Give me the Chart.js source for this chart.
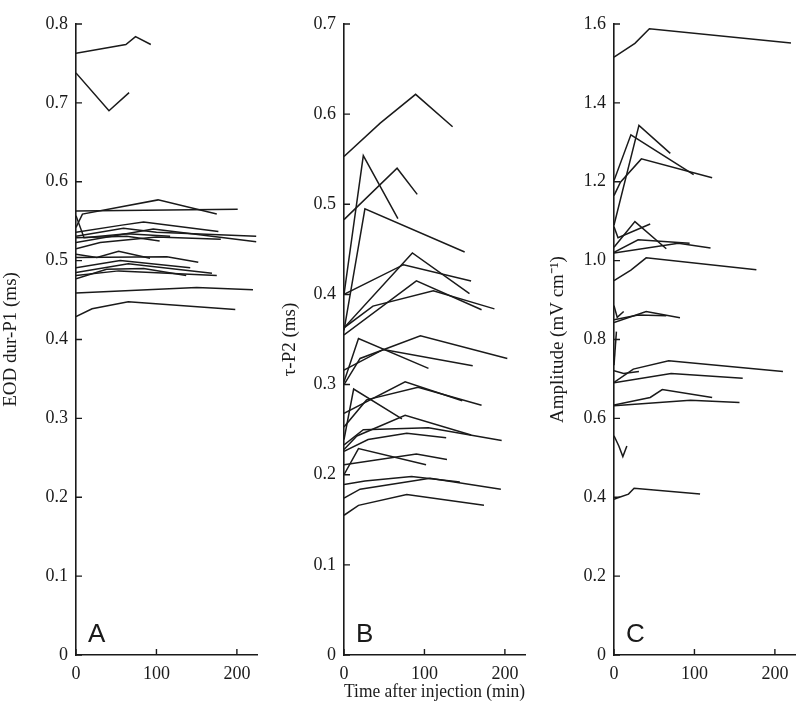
<!DOCTYPE html>
<html>
<head>
<meta charset="utf-8">
<script src="https://cdn.jsdelivr.net/npm/chart.js@4.4.1/dist/chart.umd.min.js"></script>
<style>
  html, body { margin: 0; padding: 0; background: #fff; }
  #wrap { position: relative; width: 800px; height: 717px; overflow: hidden; }
  canvas { position: absolute; top: 0; }
</style>
</head>
<body>
<div id="wrap">
  <canvas id="cA" width="265" height="717" style="left:0px"></canvas>
  <canvas id="cB" width="262" height="717" style="left:268px"></canvas>
  <canvas id="cC" width="260" height="717" style="left:540px"></canvas>
</div>
<script>
// ---- data (time in min, value) ----
const xTicks = [0, 100, 200];
const yTicksA = [0, 0.1, 0.2, 0.3, 0.4, 0.5, 0.6, 0.7, 0.8];
const yTicksB = [0, 0.1, 0.2, 0.3, 0.4, 0.5, 0.6, 0.7];
const yTicksC = [0, 0.2, 0.4, 0.6, 0.8, 1.0, 1.2, 1.4, 1.6];

const panelA = [
  [[0,0.763],[62,0.774],[74,0.784],[93,0.774]],
  [[0,0.738],[41,0.690],[66,0.713]],
  [[0,0.563],[201,0.565]],
  [[0,0.542],[8,0.559],[102,0.577],[175,0.559]],
  [[0,0.536],[57,0.545],[84,0.549],[177,0.537]],
  [[0,0.531],[59,0.541],[100,0.536],[224,0.531]],
  [[0,0.523],[96,0.540],[224,0.524]],
  [[0,0.529],[63,0.531],[104,0.525]],
  [[0,0.557],[10,0.529],[63,0.534],[117,0.531]],
  [[0,0.515],[30,0.523],[100,0.530],[180,0.527]],
  [[0,0.508],[26,0.504],[53,0.512],[92,0.503]],
  [[0,0.504],[113,0.505],[152,0.498]],
  [[0,0.491],[55,0.500],[142,0.491]],
  [[0,0.485],[65,0.496],[169,0.484]],
  [[0,0.477],[38,0.489],[84,0.490],[137,0.481]],
  [[0,0.481],[53,0.487],[175,0.481]],
  [[0,0.459],[150,0.466],[220,0.463]],
  [[0,0.429],[20,0.439],[65,0.448],[198,0.438]]
];

const panelB = [
  [[0,0.553],[45,0.590],[89,0.622],[135,0.586]],
  [[0,0.483],[66,0.540],[91,0.511]],
  [[0,0.400],[24,0.554],[67,0.484]],
  [[0,0.360],[26,0.495],[150,0.447]],
  [[0,0.400],[74,0.433],[158,0.415]],
  [[0,0.363],[85,0.446],[156,0.401]],
  [[0,0.355],[90,0.415],[171,0.383]],
  [[0,0.363],[36,0.387],[111,0.404],[187,0.384]],
  [[0,0.303],[18,0.351],[105,0.318]],
  [[0,0.300],[20,0.329],[95,0.354],[203,0.329]],
  [[0,0.316],[49,0.339],[160,0.321]],
  [[0,0.268],[76,0.303],[147,0.282]],
  [[0,0.253],[28,0.283],[92,0.297],[171,0.277]],
  [[0,0.239],[12,0.295],[72,0.262]],
  [[0,0.228],[16,0.243],[76,0.266],[158,0.244]],
  [[0,0.233],[24,0.250],[105,0.252],[196,0.238]],
  [[0,0.226],[30,0.239],[78,0.246],[127,0.241]],
  [[0,0.200],[18,0.229],[102,0.211]],
  [[0,0.211],[90,0.223],[128,0.217]],
  [[0,0.189],[26,0.193],[84,0.198],[144,0.192]],
  [[0,0.174],[20,0.184],[107,0.196],[195,0.184]],
  [[0,0.155],[18,0.166],[78,0.178],[174,0.166]]
];

const panelC = [
  [[0,1.516],[26,1.551],[44,1.588],[220,1.552]],
  [[0,1.203],[21,1.319],[99,1.218]],
  [[0,1.090],[31,1.343],[70,1.272]],
  [[0,1.165],[8,1.199],[34,1.258],[122,1.210]],
  [[0,1.086],[5,1.058],[45,1.093]],
  [[0,1.034],[26,1.099],[65,1.030]],
  [[0,1.021],[30,1.053],[94,1.044]],
  [[0,1.019],[80,1.044],[120,1.032]],
  [[0,0.949],[21,0.976],[40,1.007],[177,0.977]],
  [[0,0.886],[4,0.856],[12,0.871]],
  [[0,0.843],[40,0.871],[82,0.855]],
  [[0,0.850],[30,0.862],[65,0.860]],
  [[0,0.735],[3,0.820]],
  [[0,0.721],[12,0.714],[31,0.719]],
  [[0,0.691],[24,0.725],[68,0.746],[210,0.719]],
  [[0,0.690],[71,0.714],[160,0.702]],
  [[0,0.634],[45,0.653],[60,0.673],[122,0.653]],
  [[0,0.632],[95,0.646],[156,0.640]],
  [[0,0.556],[6,0.530],[11,0.503],[16,0.530]],
  [[0,0.395],[4,0.398],[18,0.408],[25,0.423],[107,0.408]]
];

// ---- drawing ----
const INK = '#1a1a1a';
const SERIF = '"Liberation Serif", "Times New Roman", serif';

const innerTicks = {
  id: 'innerTicks',
  afterDraw(chart) {
    const ctx = chart.ctx;
    const xs = chart.scales.x, ys = chart.scales.y;
    const ca = chart.chartArea;
    ctx.save();
    ctx.strokeStyle = INK;
    ctx.lineWidth = 1.4;
    ctx.beginPath();
    xs.ticks.forEach(t => {
      const px = xs.getPixelForValue(t.value);
      ctx.moveTo(px, ca.bottom); ctx.lineTo(px, ca.bottom - 6);
    });
    ys.ticks.forEach(t => {
      const py = ys.getPixelForValue(t.value);
      ctx.moveTo(ca.left, py); ctx.lineTo(ca.left + 6, py);
    });
    ctx.stroke();
    const letter = chart.options.plugins.innerTicks.letter;
    ctx.fillStyle = INK;
    ctx.font = '26px "Liberation Sans", Arial, sans-serif';
    ctx.textBaseline = 'alphabetic';
    ctx.textAlign = 'left';
    ctx.fillText(letter, ca.left + 12, ca.bottom - 13);
    ctx.restore();
  }
};

function makeChart(id, series, yTicks, yMax, yTitle, yTitlePad, yWidth, padRight, letter, xTitle) {
  const datasets = series.map(s => ({
    data: s.map(p => ({ x: p[0], y: p[1] })),
    borderColor: INK,
    borderWidth: 1.5,
    pointRadius: 0,
    fill: false,
    tension: 0
  }));
  return new Chart(document.getElementById(id), {
    type: 'line',
    data: { datasets },
    plugins: [innerTicks],
    options: {
      responsive: false,
      animation: false,
      devicePixelRatio: 1,
      layout: { padding: { top: 24, right: padRight, bottom: 0, left: 0 } },
      plugins: {
        legend: { display: false },
        tooltip: { enabled: false },
        innerTicks: { letter }
      },
      scales: {
        x: {
          type: 'linear',
          min: 0, max: 225,
          afterBuildTicks: s => { s.ticks = xTicks.map(v => ({ value: v })); },
          afterFit: s => { s.height = 62; },
          grid: { display: false, drawTicks: false },
          border: { display: true, color: INK, width: 1.6 },
          ticks: {
            color: INK, padding: 8, maxRotation: 0, autoSkip: false,
            font: { family: SERIF, size: 18 },
            callback: v => String(v)
          },
          title: {
            display: !!xTitle, text: xTitle || '', color: INK,
            font: { family: SERIF, size: 19 },
            padding: { top: 0, bottom: 14 }
          }
        },
        y: {
          type: 'linear',
          min: 0, max: yMax,
          afterBuildTicks: s => { s.ticks = yTicks.map(v => ({ value: v })); },
          afterFit: s => { s.width = yWidth; },
          grid: { display: false, drawTicks: false },
          border: { display: true, color: INK, width: 1.6 },
          ticks: {
            color: INK, padding: 8, autoSkip: false,
            font: { family: SERIF, size: 18 },
            callback: v => (v === 0 ? '0' : Number(v).toFixed(1))
          },
          title: {
            display: true, text: yTitle, color: INK,
            font: { family: SERIF, size: 19 },
            padding: { top: yTitlePad, bottom: 0 }
          }
        }
      }
    }
  });
}

makeChart('cA', panelA, yTicksA, 0.8, 'EOD dur-P1 (ms)', 0, 76, 8, 'A', null);
makeChart('cB', panelB, yTicksB, 0.7, 'τ-P2 (ms)', 11, 76, 5, 'B', 'Time after injection (min)');
makeChart('cC', panelC, yTicksC, 1.6, 'Amplitude (mV cm\u207B\u00B9)', 7, 74, 5, 'C', null);
</script>
</body>
</html>
